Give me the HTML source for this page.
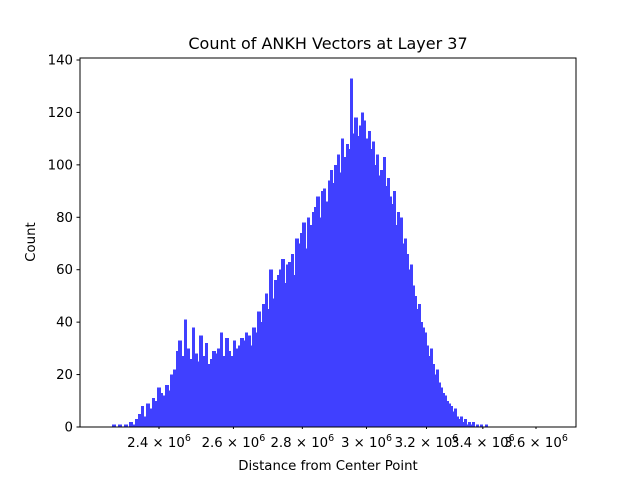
<!DOCTYPE html>
<html><head><meta charset="utf-8"><style>
body{margin:0;background:#fff;font-family:"Liberation Sans","DejaVu Sans",sans-serif}
svg text{font-family:"DejaVu Sans","Liberation Sans",sans-serif}
</style></head><body>
<svg id="chart" width="640" height="480" xmlns="http://www.w3.org/2000/svg">
<rect width="640" height="480" fill="#fff"/>
<text x="328" y="49" text-anchor="middle" font-size="16">Count of ANKH Vectors at Layer 37</text>
<g id="bars" shape-rendering="crispEdges"></g>
<g id="axes"></g>
<text x="328" y="470" text-anchor="middle" font-size="13.3">Distance from Center Point</text>
<text transform="translate(35,242) rotate(-90)" text-anchor="middle" font-size="13.3">Count</text>
</svg>
<script>
const binStart = 2270000;
const binWidth = 7000;
const counts = [0,0,1,0,1,0,1,0,2,1,
3,5,8,4,9,7,11,10,15,13,
12,16,14,20,22,29,33,27,41,30,
26,38,28,25,35,27,32,24,26,29,
28,30,36,27,34,29,27,33,30,31,
34,33,36,35,31,38,36,44,40,47,
51,45,60,49,56,58,60,64,55,62,
63,66,58,72,70,74,78,68,80,77,
82,84,88,80,90,91,86,94,98,93,
100,104,97,110,103,108,106,133,112,118,
111,115,120,117,110,113,106,109,100,104,
96,98,103,92,95,88,85,90,77,82,
80,70,72,66,60,62,54,50,45,47,
40,38,36,31,27,30,24,20,22,17,
15,13,12,10,9,8,6,7,4,3,
4,2,3,1,2,1,2,0,1,0,
1,0,0,1,0,0,0,0,0,0,
0,0,0,0,0,0,0,0,0,0,
0,0,0,0,0,0,0,0,0,0,
0,0,0,0,0,0,0,0,0,0];
const yTicks = [0,20,40,60,80,100,120,140];
const xTicks = [2.4,2.6,2.8,3,3.2,3.4,3.6];
const xTickLabels = ["2.4","2.6","2.8","3","3.2","3.4","3.6"];

const NS="http://www.w3.org/2000/svg";
const L=80,R=576,T=58,B=427;
function xs(v){return 159+929.8*Math.log(v/2.4e6);}
function ys(c){return B-c*(B-60)/140;}
const bars=document.getElementById('bars');
counts.forEach((c,i)=>{
  if(c<=0)return;
  const x0=xs(binStart+i*binWidth), x1=xs(binStart+(i+1)*binWidth);
  const r=document.createElementNS(NS,'rect');
  r.setAttribute('x',Math.floor(x0));r.setAttribute('width',Math.ceil(x1)-Math.floor(x0));
  r.setAttribute('y',ys(c));r.setAttribute('height',B-ys(c));
  r.setAttribute('fill','#4040ff');
  
  
  bars.appendChild(r);
});
const axes=document.getElementById('axes');
const frame=document.createElementNS(NS,'rect');
frame.setAttribute('x',L);frame.setAttribute('y',T);frame.setAttribute('width',R-L);frame.setAttribute('height',B-T);
frame.setAttribute('fill','none');frame.setAttribute('stroke','#000');frame.setAttribute('stroke-width','1');


axes.appendChild(frame);
yTicks.forEach(t=>{
  const y=ys(t);
  const l=document.createElementNS(NS,'line');
  l.setAttribute('x1',L-3.5);l.setAttribute('x2',L);l.setAttribute('y1',y);l.setAttribute('y2',y);l.setAttribute('stroke','#000');
  
  
  axes.appendChild(l);
  const tx=document.createElementNS(NS,'text');
  tx.setAttribute('x',L-7);tx.setAttribute('y',y+4.5);tx.setAttribute('text-anchor','end');tx.setAttribute('font-size','13.3');
  tx.textContent=t;
  
  
  axes.appendChild(tx);
});
xTicks.forEach((t,i)=>{
  const x=xs(t*1e6);
  const l=document.createElementNS(NS,'line');
  l.setAttribute('x1',x);l.setAttribute('x2',x);l.setAttribute('y1',B);l.setAttribute('y2',B+2);l.setAttribute('stroke','#000');
  
  
  axes.appendChild(l);
  const tx=document.createElementNS(NS,'text');
  tx.setAttribute('x',x);tx.setAttribute('y',447);tx.setAttribute('text-anchor','middle');tx.setAttribute('font-size','13.3');
  tx.innerHTML=xTickLabels[i]+' × 10<tspan font-size="9.5" dy="-6">6</tspan>';
  
  
  axes.appendChild(tx);
});
</script>
</body></html>
